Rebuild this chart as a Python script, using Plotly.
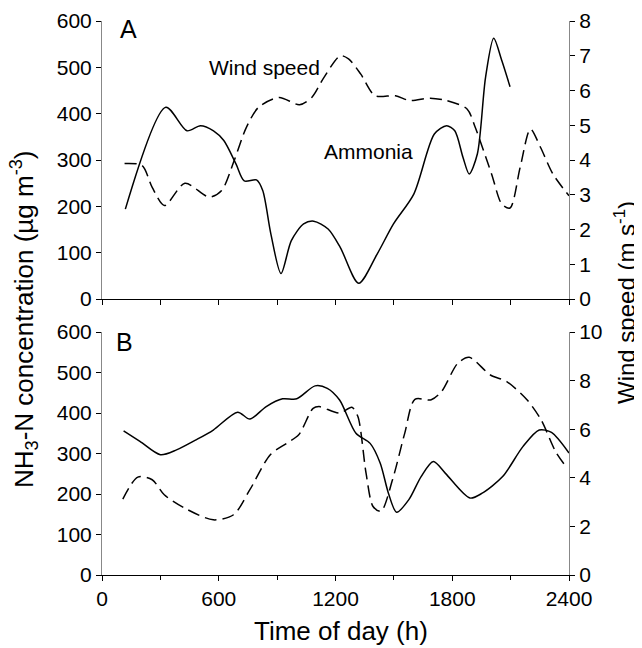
import plotly.graph_objects as go
from plotly.subplots import make_subplots

# Panel A - ammonia (solid)
hA_nh3 = [120, 328, 437, 506, 573, 626, 689, 731, 794, 826, 868, 920, 973, 1036, 1088, 1162, 1225, 1319,
          1414, 1498, 1603, 1708, 1771, 1813, 1855, 1887, 1929, 1971, 2013, 2055, 2097]
nh3A = [194, 414, 363, 374, 363, 342, 291, 255, 257, 234, 140, 55, 126, 162, 168, 151, 111, 34,
        97, 162, 227, 356, 374, 363, 306, 270, 313, 478, 563, 514, 458]

# Panel A - wind speed (dashed)
hA_ws = [116, 206, 258, 321, 426, 552, 615, 679, 742, 805, 910, 1015, 1078, 1141, 1225, 1267, 1330, 1403,
         1508, 1582, 1687, 1771, 1876, 1918, 2002, 2055, 2097, 2149, 2202, 2254, 2317, 2400]
wsA = [3.9, 3.84, 3.21, 2.69, 3.33, 2.93, 3.12, 3.98, 4.94, 5.52, 5.80, 5.59, 5.80, 6.38, 7.00, 6.91, 6.47, 5.85,
       5.85, 5.71, 5.78, 5.71, 5.47, 4.94, 3.60, 2.73, 2.62, 3.79, 4.89, 4.36, 3.60, 2.97]

# Panel B - ammonia (solid)
hB_nh3 = [111, 195, 300, 383, 488, 572, 697, 760, 844, 928, 1001, 1095, 1158, 1221, 1305, 1378, 1430, 1472,
          1514, 1577, 1640, 1703, 1765, 1891, 1954, 2059, 2163, 2247, 2310, 2400]
nh3B = [356, 330, 297, 309, 335, 358, 402, 385, 416, 435, 435, 467, 461, 432, 350, 325, 276, 202,
        155, 186, 243, 280, 251, 190, 202, 243, 317, 358, 352, 301]

# Panel B - wind speed (dashed)
hB_ws = [107, 184, 258, 320, 425, 572, 676, 760, 865, 949, 1011, 1085, 1116, 1221, 1284, 1315, 1357, 1393,
         1434, 1493, 1556, 1608, 1692, 1745, 1828, 1887, 1996, 2080, 2184, 2257, 2331, 2384]
wsB = [3.12, 4.03, 3.92, 3.30, 2.75, 2.27, 2.48, 3.51, 4.95, 5.42, 5.77, 6.86, 6.93, 6.66, 6.90, 6.52, 4.19, 2.82,
       2.62, 3.92, 5.84, 7.23, 7.21, 7.55, 8.71, 8.96, 8.23, 7.96, 7.21, 6.38, 5.08, 4.47]

FONT = "Liberation Sans, Arial, sans-serif"
OFF = 8  # page body margin
W, H = 634, 640
L, R, T, B = 102 - OFF, 634 - (569 - OFF), 21 - OFF, 640 - (575 - OFF)
pw, ph = W - L - R, H - T - B

fig = make_subplots(rows=2, cols=1, specs=[[{"secondary_y": True}], [{"secondary_y": True}]],
                    vertical_spacing=0.06)

solid = dict(color="black", width=1.5, shape="spline", smoothing=0.8)
dashed = dict(color="black", width=1.5, shape="spline", smoothing=0.8, dash="12px,6px")

fig.add_trace(go.Scatter(x=hA_nh3, y=nh3A, mode="lines", line=solid), row=1, col=1, secondary_y=False)
fig.add_trace(go.Scatter(x=hA_ws, y=wsA, mode="lines", line=dashed), row=1, col=1, secondary_y=True)
fig.add_trace(go.Scatter(x=hB_nh3, y=nh3B, mode="lines", line=solid), row=2, col=1, secondary_y=False)
fig.add_trace(go.Scatter(x=hB_ws, y=wsB, mode="lines", line=dashed), row=2, col=1, secondary_y=True)

axcommon = dict(showgrid=False, zeroline=False, showline=True, linewidth=1,
                ticks="outside", ticklen=5, tickcolor="black", automargin=False,
                tickfont=dict(family=FONT, size=21, color="black"))

fig.update_xaxes(range=[0, 2400], dtick=300, linecolor="black", **axcommon)
fig.update_xaxes(showticklabels=False, row=1, col=1)
fig.update_xaxes(dtick=600, minor=dict(dtick=300, ticks="outside", ticklen=4, tickcolor="black"),
                 row=2, col=1)

fig.update_yaxes(range=[0, 600], dtick=100, linecolor="#888", **axcommon)
fig.update_yaxes(range=[0, 8], dtick=1, row=1, col=1, secondary_y=True)
fig.update_yaxes(range=[0, 10], dtick=2, row=2, col=1, secondary_y=True)

top_lo = (575 - 299) / 554
bot_hi = (575 - 332) / 554
fig.update_layout(
    width=W, height=H,
    margin=dict(l=L, r=R, t=T, b=B),
    plot_bgcolor="white", paper_bgcolor="white",
    showlegend=False,
    font=dict(family=FONT, color="black"),
    xaxis=dict(domain=[0, 1]), xaxis2=dict(domain=[0, 1]),
    yaxis=dict(domain=[top_lo, 1.0]), yaxis2=dict(domain=[top_lo, 1.0]),
    yaxis3=dict(domain=[0.0, bot_hi]), yaxis4=dict(domain=[0.0, bot_hi]),
)

ann = dict(showarrow=False, font=dict(family=FONT, size=21, color="black"))
big = dict(family=FONT, size=25, color="black")
fig.add_annotation(x=136, y=583, xref="x", yref="y", text="A", font=big, showarrow=False)
fig.add_annotation(x=118, y=576, xref="x2", yref="y3", text="B", font=big, showarrow=False)
fig.add_annotation(x=833, y=500, xref="x", yref="y", text="Wind speed", **ann)
fig.add_annotation(x=1369, y=318, xref="x", yref="y", text="Ammonia", **ann)


def px(x, y):
    # screenshot pixel -> paper coords
    return (x - OFF - L) / pw, (H - B - (y - OFF)) / ph


centred = dict(xref="paper", yref="paper", xanchor="center", yanchor="middle", showarrow=False)
x0, y0 = px(24, 319)
fig.add_annotation(x=x0, y=y0, text="NH<sub>3</sub>-N concentration (µg m<sup>-3</sup>)",
                   textangle=-90, font=dict(family=FONT, size=26, color="black"), **centred)
x0, y0 = px(341, 631)
fig.add_annotation(x=x0, y=y0, text="Time of day (h)",
                   font=dict(family=FONT, size=26, color="black"), **centred)
x0, y0 = px(625, 303)
fig.add_annotation(x=x0, y=y0, text="Wind speed (m s<sup>-1</sup>)", textangle=-90,
                   font=dict(family=FONT, size=24, color="black"), **centred)

fig.write_html("out.html")
